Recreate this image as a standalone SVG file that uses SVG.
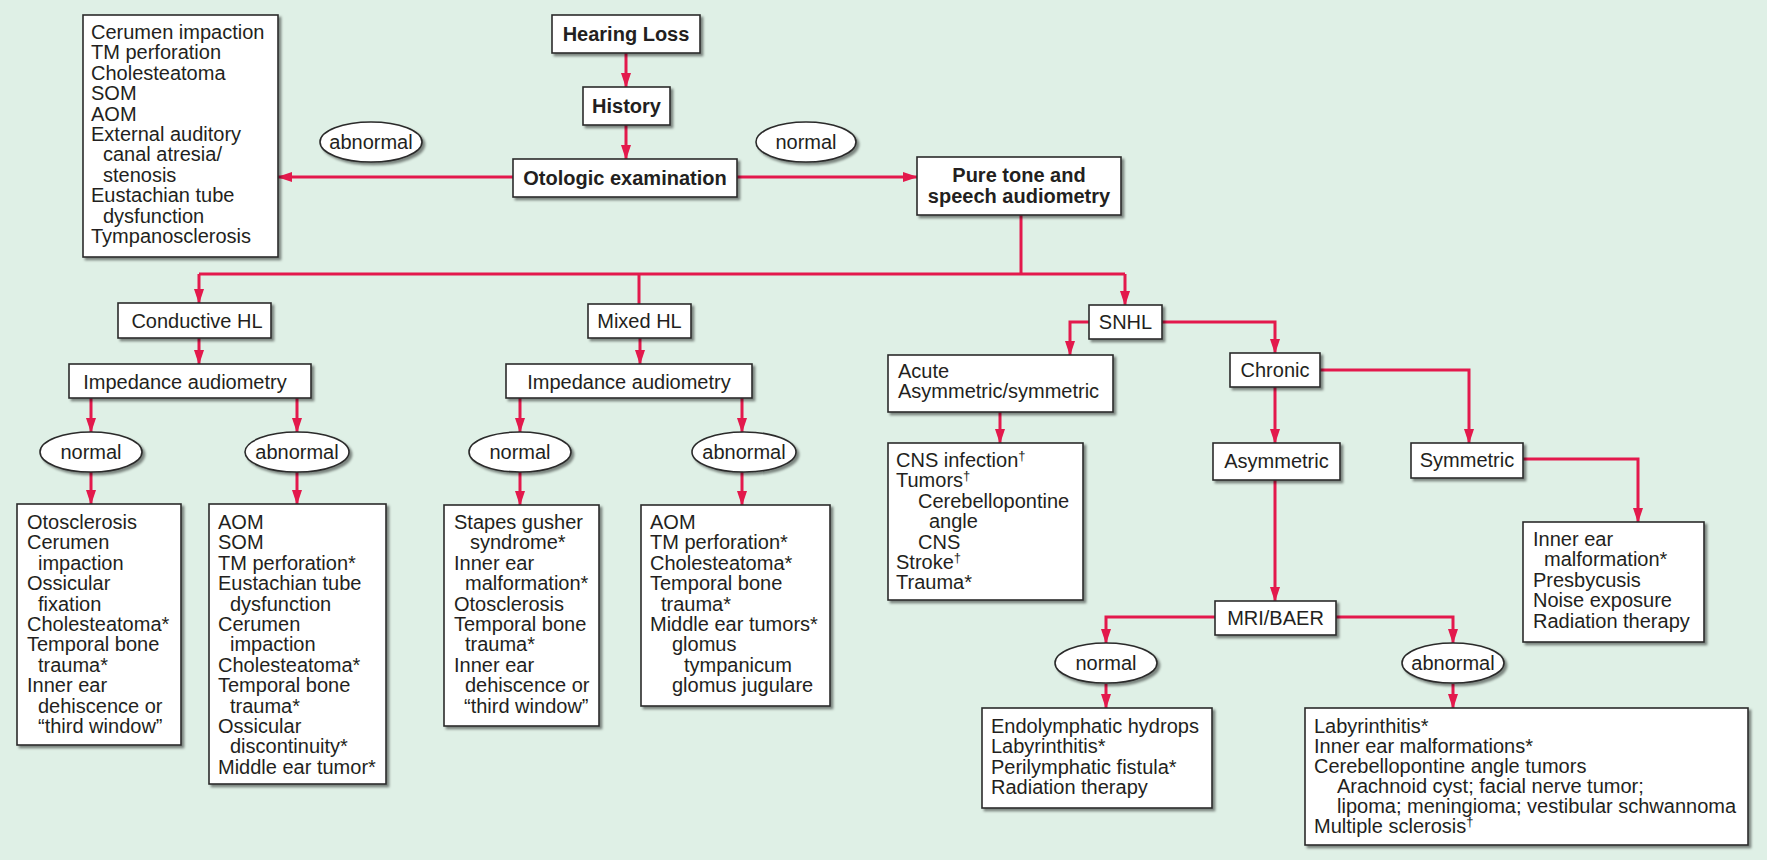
<svg xmlns="http://www.w3.org/2000/svg" width="1767" height="860" viewBox="0 0 1767 860">
<defs>
<filter id="sh" x="-10%" y="-10%" width="130%" height="130%">
<feDropShadow dx="2.5" dy="2.5" stdDeviation="0.8" flood-color="#000" flood-opacity="0.45"/>
</filter>
<marker id="ah" viewBox="0 0 15 10" refX="14" refY="5" markerWidth="15" markerHeight="10" orient="auto" markerUnits="userSpaceOnUse">
<path d="M0,0 L15,5 L0,10 z" fill="#e3194c"/>
</marker>
<style>
.bx{fill:#fff;stroke:#2b2b2b;stroke-width:1.6;filter:url(#sh)}
text{font-family:"Liberation Sans",Arial,sans-serif;font-size:20px;fill:#231f20}
.b{font-weight:bold}
.c{text-anchor:middle}
.cn{fill:none;stroke:#e3194c;stroke-width:3}
.cn .a{marker-end:url(#ah)}
.sup{font-size:13px}
</style>
</defs>
<rect width="1767" height="860" fill="#dff0e6"/>

<g id="connectors" class="cn">
<path class="a" d="M626,53 V87"/>
<path class="a" d="M626,125 V159"/>
<path class="a" d="M513,177 H278"/>
<path class="a" d="M737,177 H917"/>
<path d="M1021,215 V274"/>
<path d="M199,274 H1125"/>
<path class="a" d="M199,274 V303"/>
<path d="M639,274 V304"/>
<path class="a" d="M1125,274 V305"/>
<path class="a" d="M199,338 V364"/>
<path class="a" d="M91,398 V432"/>
<path class="a" d="M297,398 V432"/>
<path class="a" d="M91,472 V504"/>
<path class="a" d="M297,472 V504"/>
<path class="a" d="M640,338 V364"/>
<path class="a" d="M520,398 V432"/>
<path class="a" d="M742,398 V432"/>
<path class="a" d="M520,472 V505"/>
<path class="a" d="M742,472 V505"/>
<path class="a" d="M1089,322 H1070 V355"/>
<path class="a" d="M1162,322 H1275 V353"/>
<path class="a" d="M1000,412 V443"/>
<path class="a" d="M1275,387 V443"/>
<path class="a" d="M1320,370 H1469 V443"/>
<path class="a" d="M1523,459 H1638 V522"/>
<path class="a" d="M1275,480 V601"/>
<path class="a" d="M1215,617 H1106 V643"/>
<path class="a" d="M1336,617 H1453 V643"/>
<path class="a" d="M1106,684 V708"/>
<path class="a" d="M1453,684 V708"/>
</g>

<g id="n-otologic-abnormal-list">
<rect class="bx" x="83" y="15" width="195" height="242"/>
<text x="91" y="39">Cerumen impaction</text>
<text x="91" y="59.4">TM perforation</text>
<text x="91" y="79.8">Cholesteatoma</text>
<text x="91" y="100.2">SOM</text>
<text x="91" y="120.6">AOM</text>
<text x="91" y="141">External auditory</text>
<text x="103" y="161.4">canal atresia/</text>
<text x="103" y="181.8">stenosis</text>
<text x="91" y="202.2">Eustachian tube</text>
<text x="103" y="222.6">dysfunction</text>
<text x="91" y="243">Tympanosclerosis</text>
</g>

<g id="n-hearing-loss">
<rect class="bx" x="552" y="15" width="148" height="38"/>
<text class="b c" x="626" y="41">Hearing Loss</text>
</g>
<g id="n-history">
<rect class="bx" x="583" y="87" width="87" height="38"/>
<text class="b c" x="626.5" y="113">History</text>
</g>
<g id="n-otologic">
<rect class="bx" x="513" y="159" width="224" height="38"/>
<text class="b c" x="625" y="185">Otologic examination</text>
</g>
<g id="n-puretone">
<rect class="bx" x="917" y="157" width="204" height="58"/>
<text class="b c" x="1019" y="182">Pure tone and</text>
<text class="b c" x="1019" y="203">speech audiometry</text>
</g>
<g id="n-top-abnormal">
<ellipse class="bx" cx="371" cy="142" rx="51" ry="20"/>
<text class="c" x="371" y="149">abnormal</text>
</g>
<g id="n-top-normal">
<ellipse class="bx" cx="806" cy="142" rx="50" ry="20"/>
<text class="c" x="806" y="149">normal</text>
</g>

<g id="n-conductive">
<rect class="bx" x="118" y="303" width="153" height="35"/>
<text class="c" x="197" y="328">Conductive HL</text>
</g>
<g id="n-imp1">
<rect class="bx" x="69" y="364" width="242" height="34"/>
<text class="c" x="185" y="389">Impedance audiometry</text>
</g>
<g id="n-imp1-normal">
<ellipse class="bx" cx="91" cy="452" rx="51" ry="20"/>
<text class="c" x="91" y="459">normal</text>
</g>
<g id="n-imp1-abnormal">
<ellipse class="bx" cx="297" cy="452" rx="52" ry="20"/>
<text class="c" x="297" y="459">abnormal</text>
</g>
<g id="n-cond-normal-list">
<rect class="bx" x="17" y="504" width="164" height="241"/>
<text x="27" y="529">Otosclerosis</text>
<text x="27" y="549.4">Cerumen</text>
<text x="38" y="569.8">impaction</text>
<text x="27" y="590.2">Ossicular</text>
<text x="38" y="610.6">fixation</text>
<text x="27" y="631">Cholesteatoma*</text>
<text x="27" y="651.4">Temporal bone</text>
<text x="38" y="671.8">trauma*</text>
<text x="27" y="692.2">Inner ear</text>
<text x="38" y="712.6">dehiscence or</text>
<text x="38" y="733">“third window”</text>
</g>
<g id="n-cond-abnormal-list">
<rect class="bx" x="209" y="504" width="177" height="280"/>
<text x="218" y="529">AOM</text>
<text x="218" y="549.4">SOM</text>
<text x="218" y="569.8">TM perforation*</text>
<text x="218" y="590.2">Eustachian tube</text>
<text x="230" y="610.6">dysfunction</text>
<text x="218" y="631">Cerumen</text>
<text x="230" y="651.4">impaction</text>
<text x="218" y="671.8">Cholesteatoma*</text>
<text x="218" y="692.2">Temporal bone</text>
<text x="230" y="712.6">trauma*</text>
<text x="218" y="733">Ossicular</text>
<text x="230" y="753.4">discontinuity*</text>
<text x="218" y="773.8">Middle ear tumor*</text>
</g>

<g id="n-mixed">
<rect class="bx" x="588" y="304" width="103" height="34"/>
<text class="c" x="639.5" y="328">Mixed HL</text>
</g>
<g id="n-imp2">
<rect class="bx" x="506" y="364" width="246" height="34"/>
<text class="c" x="629" y="389">Impedance audiometry</text>
</g>
<g id="n-imp2-normal">
<ellipse class="bx" cx="520" cy="452" rx="51" ry="20"/>
<text class="c" x="520" y="459">normal</text>
</g>
<g id="n-imp2-abnormal">
<ellipse class="bx" cx="744" cy="452" rx="52" ry="20"/>
<text class="c" x="744" y="459">abnormal</text>
</g>
<g id="n-mixed-normal-list">
<rect class="bx" x="444" y="505" width="155" height="221"/>
<text x="454" y="529">Stapes gusher</text>
<text x="470" y="549.4">syndrome*</text>
<text x="454" y="569.8">Inner ear</text>
<text x="465" y="590.2">malformation*</text>
<text x="454" y="610.6">Otosclerosis</text>
<text x="454" y="631">Temporal bone</text>
<text x="465" y="651.4">trauma*</text>
<text x="454" y="671.8">Inner ear</text>
<text x="465" y="692.2">dehiscence or</text>
<text x="464" y="712.6">“third window”</text>
</g>
<g id="n-mixed-abnormal-list">
<rect class="bx" x="641" y="505" width="189" height="201"/>
<text x="650" y="529">AOM</text>
<text x="650" y="549.4">TM perforation*</text>
<text x="650" y="569.8">Cholesteatoma*</text>
<text x="650" y="590.2">Temporal bone</text>
<text x="661" y="610.6">trauma*</text>
<text x="650" y="631">Middle ear tumors*</text>
<text x="672" y="651.4">glomus</text>
<text x="684" y="671.8">tympanicum</text>
<text x="672" y="692.2">glomus jugulare</text>
</g>

<g id="n-snhl">
<rect class="bx" x="1089" y="305" width="73" height="34"/>
<text class="c" x="1125.5" y="329">SNHL</text>
</g>
<g id="n-acute">
<rect class="bx" x="888" y="355" width="225" height="57"/>
<text x="898" y="378">Acute</text>
<text x="898" y="398">Asymmetric/symmetric</text>
</g>
<g id="n-acute-list">
<rect class="bx" x="888" y="443" width="195" height="157"/>
<text x="896" y="467">CNS infection<tspan class="sup" dy="-7">†</tspan></text>
<text x="896" y="487.4">Tumors<tspan class="sup" dy="-7">†</tspan></text>
<text x="918" y="507.8">Cerebellopontine</text>
<text x="929" y="528.2">angle</text>
<text x="918" y="548.6">CNS</text>
<text x="896" y="569">Stroke<tspan class="sup" dy="-7">†</tspan></text>
<text x="896" y="589.4">Trauma*</text>
</g>
<g id="n-chronic">
<rect class="bx" x="1230" y="353" width="90" height="34"/>
<text class="c" x="1275" y="377">Chronic</text>
</g>
<g id="n-asymmetric">
<rect class="bx" x="1213" y="443" width="127" height="37"/>
<text class="c" x="1276.5" y="468">Asymmetric</text>
</g>
<g id="n-symmetric">
<rect class="bx" x="1411" y="443" width="112" height="35"/>
<text class="c" x="1467" y="467">Symmetric</text>
</g>
<g id="n-symmetric-list">
<rect class="bx" x="1523" y="522" width="181" height="120"/>
<text x="1533" y="546">Inner ear</text>
<text x="1544" y="566.4">malformation*</text>
<text x="1533" y="586.8">Presbycusis</text>
<text x="1533" y="607.2">Noise exposure</text>
<text x="1533" y="627.6">Radiation therapy</text>
</g>
<g id="n-mri">
<rect class="bx" x="1215" y="601" width="121" height="34"/>
<text class="c" x="1275.5" y="625">MRI/BAER</text>
</g>
<g id="n-mri-normal">
<ellipse class="bx" cx="1106" cy="663" rx="51" ry="20"/>
<text class="c" x="1106" y="670">normal</text>
</g>
<g id="n-mri-abnormal">
<ellipse class="bx" cx="1453" cy="663" rx="51" ry="20"/>
<text class="c" x="1453" y="670">abnormal</text>
</g>
<g id="n-mri-normal-list">
<rect class="bx" x="982" y="708" width="230" height="100"/>
<text x="991" y="733">Endolymphatic hydrops</text>
<text x="991" y="753.4">Labyrinthitis*</text>
<text x="991" y="773.8">Perilymphatic fistula*</text>
<text x="991" y="794.2">Radiation therapy</text>
</g>
<g id="n-mri-abnormal-list">
<rect class="bx" x="1305" y="708" width="443" height="137"/>
<text x="1314" y="733">Labyrinthitis*</text>
<text x="1314" y="753">Inner ear malformations*</text>
<text x="1314" y="773">Cerebellopontine angle tumors</text>
<text x="1337" y="793">Arachnoid cyst; facial nerve tumor;</text>
<text x="1337" y="813">lipoma; meningioma; vestibular schwannoma</text>
<text x="1314" y="833">Multiple sclerosis<tspan class="sup" dy="-7">†</tspan></text>
</g>
</svg>
